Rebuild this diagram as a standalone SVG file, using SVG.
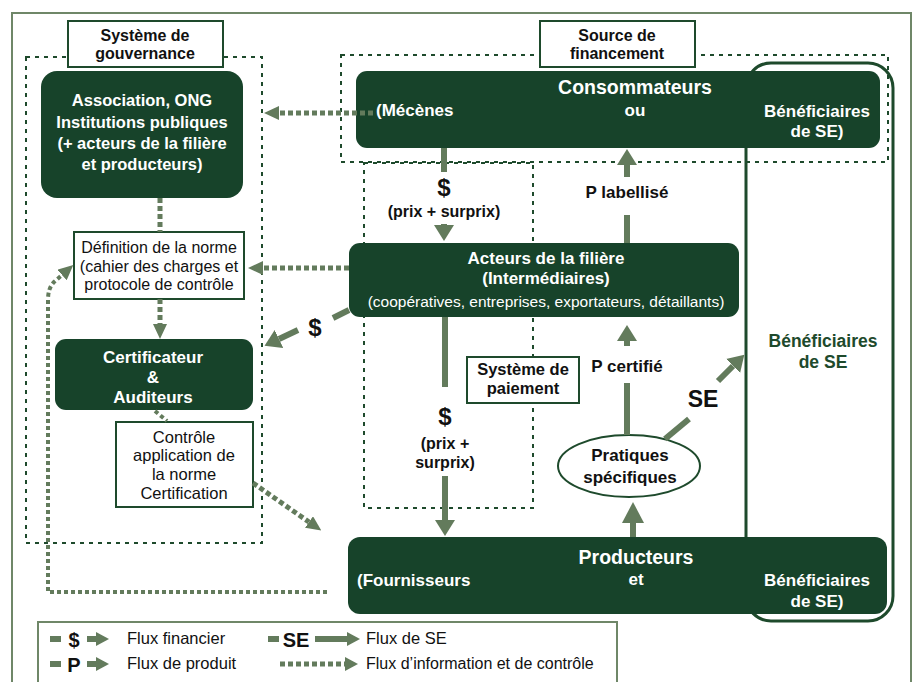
<svg xmlns="http://www.w3.org/2000/svg" width="916" height="682" viewBox="0 0 916 682">
<defs>
<style>
text{font-family:"Liberation Sans",Arial,sans-serif;dominant-baseline:central;text-anchor:middle}
.b{font-weight:bold}
.w{fill:#ffffff}
.k{fill:#111111}
.dk{fill:#17432a}
.lbl{fill:#ffffff;stroke:#1e4a2c;stroke-width:2}
.zone{fill:none;stroke:#1e4a2c;stroke-width:2;stroke-dasharray:4 5}
.flow{fill:none;stroke:#637b5c;stroke-width:6}
.info{fill:none;stroke:#637b5c;stroke-width:5;stroke-dasharray:5 3}
.infos{fill:none;stroke:#637b5c;stroke-width:4;stroke-dasharray:4 3}
</style>
<marker id="ah" markerUnits="userSpaceOnUse" markerWidth="16" markerHeight="20" refX="0" refY="10" orient="auto" viewBox="0 0 16 20"><path d="M0,0 L16,10 L0,20 Z" fill="#637b5c"/></marker>
<marker id="ahL" markerUnits="userSpaceOnUse" markerWidth="21" markerHeight="22" refX="0" refY="11" orient="auto" viewBox="0 0 21 22"><path d="M0,0 L21,11 L0,22 Z" fill="#637b5c"/></marker>
<marker id="ahd" markerUnits="userSpaceOnUse" markerWidth="15" markerHeight="14" refX="0" refY="7" orient="auto" viewBox="0 0 15 14"><path d="M0,0 L15,7 L0,14 Z" fill="#637b5c"/></marker>
<marker id="ahs" markerUnits="userSpaceOnUse" markerWidth="13" markerHeight="14" refX="0" refY="7" orient="auto" viewBox="0 0 13 14"><path d="M0,0 L13,7 L0,14 Z" fill="#637b5c"/></marker>
</defs>
<rect width="916" height="682" fill="#ffffff"/>
<rect x="12" y="13" width="899" height="700" fill="none" stroke="#6f8768" stroke-width="2"/>

<g id="zones">
<rect class="zone" x="26" y="57" width="236" height="486"/>
<rect class="zone" x="341" y="55" width="547" height="107"/>
<rect class="zone" x="364" y="163" width="169" height="345"/>
<rect id="beneficiaires-outline" x="746" y="63" width="147" height="558" rx="25" fill="none" stroke="#1e4a2c" stroke-width="3"/>
</g>

<g id="n-gouvernance">
<rect class="lbl" x="68" y="21" width="155" height="46"/>
<text class="b k" x="145" y="35" font-size="16">Système de</text>
<text class="b k" x="145" y="53" font-size="16">gouvernance</text>
</g>
<g id="n-financement">
<rect class="lbl" x="540" y="21" width="155" height="46"/>
<text class="b k" x="617" y="35" font-size="16">Source de</text>
<text class="b k" x="617" y="53" font-size="16">financement</text>
</g>
<g id="n-association">
<rect class="dk" x="41" y="71" width="202" height="127" rx="16"/>
<text class="b w" x="142" y="100" font-size="16.5">Association, ONG</text>
<text class="b w" x="142" y="122" font-size="16.5">Institutions publiques</text>
<text class="b w" x="142" y="143" font-size="16.5">(+ acteurs de la filière</text>
<text class="b w" x="142" y="164" font-size="16.5">et producteurs)</text>
</g>
<g id="n-consommateurs">
<rect class="dk" x="356" y="71" width="524" height="77" rx="11"/>
<text class="b w" x="635" y="87" font-size="19.5">Consommateurs</text>
<text class="b w" x="635" y="110" font-size="17">ou</text>
<text class="b w" x="376" y="110" font-size="17" style="text-anchor:start">(Mécènes</text>
<text class="b w" x="817" y="111" font-size="17">Bénéficiaires</text>
<text class="b w" x="817" y="131" font-size="17">de SE)</text>
</g>
<g id="n-acteurs">
<rect class="dk" x="349" y="243" width="390" height="74" rx="11"/>
<text class="b w" x="546" y="258" font-size="17">Acteurs de la filière</text>
<text class="b w" x="546" y="278" font-size="17">(Intermédiaires)</text>
<text class="w" x="546" y="301" font-size="15.5">(coopératives, entreprises, exportateurs, détaillants)</text>
</g>
<g id="n-definition">
<rect class="lbl" x="74" y="232" width="170" height="67"/>
<text class="k" x="159" y="247" font-size="16">Définition de la norme</text>
<text class="k" x="159" y="266" font-size="16">(cahier des charges et</text>
<text class="k" x="159" y="284" font-size="16">protocole de contrôle</text>
</g>
<g id="n-certificateur">
<rect class="dk" x="55" y="339" width="198" height="71" rx="11"/>
<text class="b w" x="153" y="357" font-size="17">Certificateur</text>
<text class="b w" x="153" y="377" font-size="17">&amp;</text>
<text class="b w" x="153" y="397" font-size="17">Auditeurs</text>
</g>
<g id="n-controle">
<rect class="lbl" x="116" y="422" width="137" height="85"/>
<text class="k" x="184" y="437" font-size="16.5">Contrôle</text>
<text class="k" x="184" y="455" font-size="16.5">application de</text>
<text class="k" x="184" y="474" font-size="16.5">la norme</text>
<text class="k" x="184" y="493" font-size="16.5">Certification</text>
</g>
<g id="n-paiement">
<rect class="lbl" x="467" y="357" width="112" height="46"/>
<text class="b k" x="523" y="369" font-size="16.5">Système de</text>
<text class="b k" x="523" y="388" font-size="16.5">paiement</text>
</g>
<g id="n-pratiques">
<ellipse cx="629" cy="466" rx="71" ry="31" fill="#ffffff" stroke="#1e4a2c" stroke-width="2"/>
<text class="b k" x="630" y="455" font-size="17">Pratiques</text>
<text class="b k" x="630" y="477" font-size="17">spécifiques</text>
</g>
<g id="n-beneficiaires">
<text class="b" x="823" y="341" font-size="17.5" fill="#1e4a2c">Bénéficiaires</text>
<text class="b" x="823" y="362" font-size="17.5" fill="#1e4a2c">de SE</text>
</g>
<g id="n-producteurs">
<rect class="dk" x="348" y="537" width="539" height="77" rx="12"/>
<text class="b w" x="636" y="557" font-size="19.5">Producteurs</text>
<text class="b w" x="636" y="579" font-size="17">et</text>
<text class="b w" x="357" y="580" font-size="17" style="text-anchor:start">(Fournisseurs</text>
<text class="b w" x="817" y="580" font-size="17">Bénéficiaires</text>
<text class="b w" x="817" y="601" font-size="17">de SE)</text>
</g>

<g id="connectors">
<path class="flow" d="M444,148 L444,172"/>
<path class="flow" d="M444,224 L444,225" marker-end="url(#ah)"/>
<text class="b k" x="444" y="187" font-size="24">$</text>
<text class="b k" x="444" y="211" font-size="16">(prix + surprix)</text>

<path class="flow" d="M445,317 L445,387"/>
<path class="flow" d="M445,476 L445,520" marker-end="url(#ah)"/>
<text class="b k" x="445" y="416" font-size="24">$</text>
<text class="b k" x="445" y="443" font-size="16">(prix +</text>
<text class="b k" x="445" y="462" font-size="16">surprix)</text>

<path class="flow" d="M627,243 L627,215"/>
<path class="flow" d="M627,177 L627,165" marker-end="url(#ah)"/>
<text class="b k" x="627" y="192" font-size="17">P labellisé</text>

<path class="flow" d="M627,435 L627,383"/>
<path class="flow" d="M627,346 L627,341" marker-end="url(#ah)"/>
<text class="b k" x="627" y="366" font-size="17">P certifié</text>

<path class="flow" d="M633,537 L633,523" stroke-width="8" marker-end="url(#ahL)"/>

<path class="flow" d="M665,439 L689,419"/>
<path class="flow" d="M718,381 L733,366" marker-end="url(#ah)"/>
<text class="b k" x="703" y="399" font-size="23">SE</text>

<path class="flow" d="M349,310 L333,318"/>
<path class="flow" d="M298,330 L279,339" marker-end="url(#ah)"/>
<text class="b k" x="315" y="327" font-size="24">$</text>

<path class="info" d="M373,113 L279,113" marker-end="url(#ahd)"/>
<path class="info" d="M349,268 L263,268" marker-end="url(#ahd)"/>
<path class="info" d="M160,198 L160,232"/>
<path class="info" d="M160,299 L160,324" marker-end="url(#ahd)"/>
<path class="infos" d="M155,411 L167,421" stroke-width="3"/>
<path class="info" d="M253,483 L309,522" marker-end="url(#ahd)"/>
<path class="infos" d="M327,592 H48 V300 Q48,288 54,282 L62,275" marker-end="url(#ahd)"/>
</g>

<g id="legend">
<rect x="38" y="622" width="579" height="80" fill="#ffffff" stroke="#6f8768" stroke-width="2"/>
<path class="flow" d="M50,639 H61"/>
<text class="b k" x="74" y="640" font-size="20">$</text>
<path class="flow" d="M87,639 L96,639" marker-end="url(#ahs)"/>
<text class="k" x="127" y="638" font-size="16.5" style="text-anchor:start">Flux financier</text>
<path class="flow" d="M268,639 H279"/>
<text class="b k" x="296" y="640" font-size="20">SE</text>
<path class="flow" d="M315,639 L347,639" marker-end="url(#ahs)"/>
<text class="k" x="366" y="638" font-size="16.5" style="text-anchor:start">Flux de SE</text>
<path class="flow" d="M50,664 H61"/>
<text class="b k" x="74" y="665" font-size="20">P</text>
<path class="flow" d="M87,664 L96,664" marker-end="url(#ahs)"/>
<text class="k" x="127" y="663" font-size="16.5" style="text-anchor:start">Flux de produit</text>
<path class="info" d="M280,664 L345,664" marker-end="url(#ahs)"/>
<text class="k" x="366" y="663" font-size="16" style="text-anchor:start">Flux d’information et de contrôle</text>
</g>
</svg>
